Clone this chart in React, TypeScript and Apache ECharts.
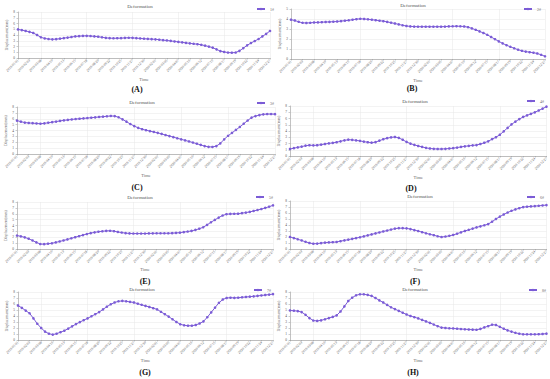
import React, { useEffect, useRef } from "react";
import * as echarts from "echarts";

const panelLetters = ["(A)", "(B)", "(C)", "(D)", "(E)", "(F)", "(G)", "(H)"];
const legendNames = ["1#", "2#", "3#", "4#", "5#", "6#", "7#", "8#"];
const chartTitle = "Deformation";
const xName = "Time";
const yName = "Displacement(mm)";
const yMaxValues = [8, 5, 8, 8, 8, 8, 8, 8];

// 67 observation dates (categories)
const startDate = new Date(2019, 0, 1);
const dayStep = 11;
const dates: string[] = [];
for (let i = 0; i < 67; i++) {
  const d = new Date(startDate.getTime() + i * dayStep * 86400000);
  const mm = String(d.getMonth() + 1).padStart(2, "0");
  const dd = String(d.getDate()).padStart(2, "0");
  dates.push(`${d.getFullYear()}/${mm}/${dd}`);
}

const seriesA = [
  4.97, 4.85, 4.7, 4.55, 4.35, 4.0, 3.6, 3.4, 3.3, 3.25, 3.28, 3.36, 3.45, 3.55, 3.65,
  3.75, 3.8, 3.84, 3.85, 3.82, 3.76, 3.7, 3.6, 3.5, 3.45, 3.43, 3.44, 3.45, 3.5, 3.52,
  3.5, 3.45, 3.4, 3.35, 3.32, 3.28, 3.25, 3.18, 3.1, 3.05, 2.97, 2.88, 2.8, 2.72, 2.63,
  2.55, 2.47, 2.4, 2.3, 2.15, 1.98, 1.8, 1.5, 1.2, 1.05, 0.95, 0.92, 0.95, 1.25, 1.7,
  2.2, 2.6, 2.95, 3.3, 3.75, 4.2, 4.7,
];
const seriesB = [
  3.93, 3.85, 3.72, 3.62, 3.6, 3.62, 3.65, 3.66, 3.68, 3.7, 3.71, 3.73, 3.75, 3.79, 3.83,
  3.87, 3.93, 3.98, 4.02, 4.0, 3.97, 3.93, 3.88, 3.83, 3.78, 3.71, 3.63, 3.55, 3.46, 3.37,
  3.3, 3.26, 3.24, 3.23, 3.23, 3.23, 3.23, 3.23, 3.23, 3.23, 3.24, 3.26, 3.27, 3.28, 3.27,
  3.25, 3.18, 3.06, 2.92, 2.76, 2.6, 2.42, 2.2, 1.98, 1.76, 1.56, 1.38, 1.22, 1.07, 0.93,
  0.82, 0.74, 0.68, 0.63, 0.55, 0.42, 0.27,
];
const seriesC = [
  5.69, 5.5, 5.35, 5.28, 5.25, 5.2, 5.15, 5.22, 5.32, 5.42, 5.52, 5.63, 5.73, 5.8, 5.88,
  5.95, 6.0, 6.06, 6.12, 6.18, 6.24, 6.3, 6.36, 6.42, 6.47, 6.45, 6.25, 5.9, 5.5, 5.1,
  4.75, 4.45, 4.22, 4.05, 3.9, 3.75, 3.6, 3.42, 3.23, 3.05, 2.87, 2.68, 2.5, 2.32, 2.13,
  1.95, 1.75, 1.55, 1.35, 1.22, 1.2, 1.35, 1.8, 2.5, 3.1, 3.6, 4.1, 4.6, 5.15, 5.7,
  6.2, 6.45, 6.62, 6.75, 6.8, 6.8, 6.78,
];
const seriesD = [
  1.12, 1.25, 1.38, 1.5, 1.65, 1.72, 1.7, 1.72, 1.82, 1.92, 2.02, 2.1, 2.2, 2.35, 2.5,
  2.61, 2.58, 2.5, 2.42, 2.3, 2.2, 2.13, 2.22, 2.45, 2.68, 2.85, 2.98, 3.04, 2.9, 2.6,
  2.25, 1.98, 1.78, 1.6, 1.45, 1.3, 1.2, 1.15, 1.12, 1.12, 1.15, 1.2, 1.25, 1.35, 1.45,
  1.55, 1.62, 1.7, 1.75, 1.92, 2.12, 2.35, 2.7, 3.0, 3.4, 3.95, 4.5, 5.05, 5.5, 5.9,
  6.25, 6.5, 6.75, 6.99, 7.28, 7.58, 7.89,
];
const seriesE = [
  2.29, 2.15, 1.98, 1.75, 1.45, 1.12, 0.85, 0.82, 0.9, 0.97, 1.12, 1.28, 1.45, 1.63, 1.82,
  2.0, 2.18, 2.37, 2.55, 2.7, 2.83, 2.94, 3.02, 3.08, 3.1, 3.03, 2.9, 2.8, 2.7, 2.65,
  2.63, 2.63, 2.63, 2.63, 2.65, 2.67, 2.68, 2.68, 2.68, 2.68, 2.7, 2.74, 2.78, 2.88, 2.97,
  3.08, 3.25, 3.45, 3.7, 4.1, 4.55, 4.95, 5.35, 5.7, 5.92, 5.97, 5.99, 6.0, 6.1, 6.2,
  6.31, 6.47, 6.63, 6.8, 7.0, 7.2, 7.43,
];
const seriesF = [
  2.01, 1.82, 1.62, 1.42, 1.2, 1.0, 0.88, 0.9, 0.98, 1.06, 1.1, 1.13, 1.17, 1.3, 1.43,
  1.56, 1.69, 1.82, 1.95, 2.1, 2.27, 2.43, 2.6, 2.76, 2.92, 3.08, 3.24, 3.4, 3.47, 3.47,
  3.44, 3.32, 3.15, 2.99, 2.8, 2.62, 2.45, 2.3, 2.12, 1.99, 2.08, 2.2, 2.34, 2.55, 2.78,
  3.0, 3.2, 3.4, 3.6, 3.78, 3.95, 4.15, 4.55, 5.0, 5.4, 5.75, 6.08, 6.37, 6.6, 6.8,
  6.98, 7.05, 7.1, 7.15, 7.2, 7.26, 7.32,
];
const seriesG = [
  5.75, 5.35, 4.9, 4.45, 3.6, 2.7, 2.0, 1.4, 1.05, 0.9, 1.05, 1.3, 1.55, 1.9, 2.28,
  2.65, 2.98, 3.3, 3.6, 3.95, 4.3, 4.65, 5.1, 5.55, 5.95, 6.25, 6.45, 6.52, 6.45, 6.35,
  6.25, 6.05, 5.87, 5.68, 5.5, 5.3, 5.1, 4.7, 4.3, 3.9, 3.45, 3.0, 2.62, 2.45, 2.38,
  2.38, 2.5, 2.75, 3.1, 3.8, 4.6, 5.4, 6.2, 6.75, 7.0, 7.05, 7.02, 7.05, 7.12, 7.17,
  7.22, 7.28, 7.35, 7.42, 7.5, 7.57, 7.65,
];
const seriesH = [
  4.92, 4.88, 4.82, 4.65, 4.2, 3.65, 3.24, 3.18, 3.28, 3.45, 3.65, 3.85, 4.1, 4.75, 5.6,
  6.5, 7.05, 7.45, 7.62, 7.62, 7.52, 7.35, 7.0, 6.6, 6.25, 5.85, 5.45, 5.15, 4.85, 4.55,
  4.25, 4.0, 3.8, 3.6, 3.35, 3.1, 2.86, 2.58, 2.3, 2.07, 2.0, 1.95, 1.92, 1.88, 1.83,
  1.79, 1.75, 1.72, 1.7, 1.85, 2.1, 2.3, 2.55, 2.5, 2.2, 1.88, 1.6, 1.4, 1.2, 1.05,
  0.95, 0.95, 0.95, 0.95, 0.96, 1.0, 1.06,
];
const allSeries = [seriesA, seriesB, seriesC, seriesD, seriesE, seriesF, seriesG, seriesH];

// layout (pixels)
const grids = [
  { left: 18, top: 12, width: 252, height: 46 },
  { left: 291, top: 9, width: 254, height: 50 },
  { left: 17, top: 107, width: 258, height: 47 },
  { left: 290, top: 106, width: 257, height: 50 },
  { left: 17, top: 202, width: 256, height: 47 },
  { left: 290, top: 201, width: 257, height: 48 },
  { left: 18, top: 292, width: 255, height: 48 },
  { left: 290, top: 292, width: 257, height: 48 },
];
const nameGaps = [19, 19, 19, 19, 18, 18, 18, 18];
const titlePos = [
  [140, 6], [413, 5], [142, 102], [415, 101], [140, 197], [420, 196], [142, 289], [415, 289],
];
const legendPos = [
  [256, 7], [523, 7], [256, 101], [526, 99], [255, 195], [526, 195], [253, 288], [528, 288],
];
const letterPos = [
  [137, 89], [412, 88], [137, 187], [411, 188], [145, 281], [415, 281], [145, 372], [413, 372],
];

const FONT = "Liberation Serif";
const PURPLE = "#7b5cd6";

export default function App() {
  const ref = useRef<HTMLDivElement>(null);
  useEffect(() => {
    if (!ref.current) return;
    const chart = echarts.init(ref.current, undefined, { renderer: "svg" });
    const option: any = {
      animation: false,
      backgroundColor: "#ffffff",
      textStyle: { fontFamily: FONT },
      grid: grids.map((g) => ({ ...g, containLabel: false })),
      legend: grids.map((_, i) => ({
        data: [legendNames[i]],
        left: legendPos[i][0],
        top: legendPos[i][1],
        itemWidth: 8,
        itemHeight: 3,
        itemGap: 2,
        padding: 0,
        textStyle: { fontSize: 4, color: "#666", fontFamily: FONT },
      })),
      xAxis: grids.map((_, i) => ({
        gridIndex: i,
        type: "category",
        data: dates,
        boundaryGap: false,
        name: xName,
        nameLocation: "middle",
        nameGap: nameGaps[i],
        nameTextStyle: { fontSize: 4.5, color: "#666", fontFamily: FONT },
        axisLine: { lineStyle: { color: "#999", width: 0.6 } },
        axisTick: { show: true, interval: 2, length: 1.5, lineStyle: { color: "#999", width: 0.5 } },
        axisLabel: { interval: 2, rotate: 45, fontSize: 3.5, color: "#555", margin: 2, fontFamily: FONT },
        splitLine: {
          show: true,
          interval: (idx: number) => idx % 12 === 6,
          lineStyle: { color: "#e6e6e6", width: 0.5 },
        },
      })),
      yAxis: grids.map((_, i) => ({
        gridIndex: i,
        type: "value",
        min: 0,
        max: yMaxValues[i],
        interval: 1,
        name: yName,
        nameLocation: "middle",
        nameGap: 10,
        nameTextStyle: { fontSize: 4, color: "#666", fontFamily: FONT },
        axisLine: { show: true, lineStyle: { color: "#999", width: 0.6 } },
        axisTick: { show: true, length: 1.5, lineStyle: { color: "#999", width: 0.5 } },
        axisLabel: { fontSize: 3.5, color: "#555", margin: 3, fontFamily: FONT },
        splitLine: { show: true, lineStyle: { color: "#e6e6e6", width: 0.5 } },
      })),
      series: allSeries.map((data, i) => ({
        name: legendNames[i],
        type: "line",
        xAxisIndex: i,
        yAxisIndex: i,
        data,
        symbol: "circle",
        symbolSize: 2.6,
        showSymbol: true,
        showAllSymbol: true,
        itemStyle: { color: PURPLE },
        lineStyle: { color: PURPLE, width: 1 },
      })),
      graphic: [
        ...titlePos.map((p) => ({
          type: "text",
          x: p[0],
          y: p[1],
          style: {
            text: chartTitle,
            fontSize: 5,
            fill: "#555",
            fontFamily: FONT,
            align: "center",
            verticalAlign: "middle",
          },
        })),
        ...letterPos.map((p, i) => ({
          type: "text",
          x: p[0],
          y: p[1],
          style: {
            text: panelLetters[i],
            fontSize: 8,
            fontWeight: "bold",
            fill: "#111",
            fontFamily: FONT,
            align: "center",
            verticalAlign: "middle",
          },
        })),
      ],
    };
    chart.setOption(option);
    return () => chart.dispose();
  }, []);
  return (
    <div
      ref={ref}
      style={{ position: "absolute", left: 0, top: 0, width: 550, height: 379, background: "#fff" }}
    />
  );
}
